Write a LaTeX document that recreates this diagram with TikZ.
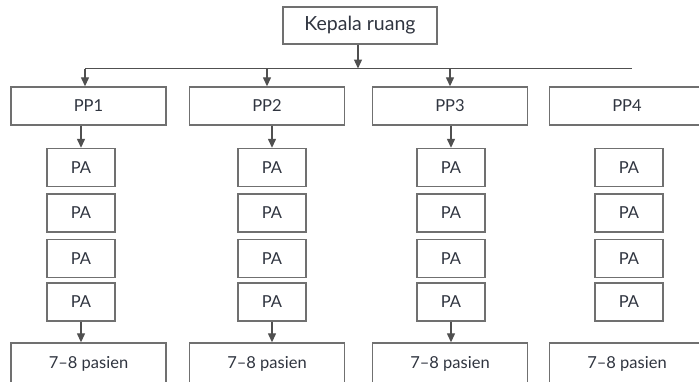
\documentclass[tikz,border=0pt]{standalone}
\usepackage{fontspec}
\setmainfont{Lato}
\usetikzlibrary{arrows.meta}
\definecolor{boxline}{HTML}{707070}
\definecolor{conn}{HTML}{505050}
\definecolor{txt}{HTML}{303540}
\begin{document}
\begin{tikzpicture}[x=1pt,y=1pt,
  box/.style={draw=boxline,line width=1.4pt,fill=white,inner sep=0pt,text=txt,font=\fontsize{16.5}{18}\selectfont},
  ppbox/.style={box,minimum width=155pt,minimum height=38pt},
  pabox/.style={box,minimum width=68pt,minimum height=38pt},
  arr/.style={draw=conn,line width=1.3pt,-{Triangle[length=9pt,width=8pt]}},
  ln/.style={draw=conn,line width=1.3pt}]
\useasboundingbox (0,0) rectangle (699,-381);
\fill[white] (0,0) rectangle (699,-381);
\node[box,minimum width=154pt,minimum height=37pt,font=\fontsize{19.5}{22}\selectfont] (kep) at (360,-25.5) {Kepala ruang};
% PP row
\node[ppbox] (pp1) at (88.5,-106) {PP1};
\node[ppbox] (pp2) at (267,-106) {PP2};
\node[ppbox] (pp3) at (450,-106) {PP3};
\node[ppbox] (pp4) at (627,-106) {PP4};
% PA columns
\foreach \c/\x in {1/81,2/272,3/451,4/629}{
  \node[pabox] (pa\c a) at (\x,-167.5) {PA};
  \node[pabox] (pa\c b) at (\x,-213) {PA};
  \node[pabox] (pa\c c) at (\x,-258.5) {PA};
  \node[pabox] (pa\c d) at (\x,-302) {PA};
}
% bottom row
\node[ppbox,minimum height=42pt] (bt1) at (88.5,-364) {7–8 pasien};
\node[ppbox,minimum height=42pt] (bt2) at (267,-364) {7–8 pasien};
\node[ppbox,minimum height=42pt] (bt3) at (450,-364) {7–8 pasien};
\node[ppbox,minimum height=42pt] (bt4) at (627,-364) {7–8 pasien};
% distribution line
\coordinate (jn) at (358,-68.5);
\coordinate (lL) at (85,-68.5);
\coordinate (lR) at (632,-68.5);
\draw[ln] (lL) -- (lR);
\draw[arr] (kep.south -| jn) -- (jn);
\draw[arr] (lL) -- (lL |- pp1.north);
\draw[arr] (pp2.north |- jn) -- (pp2.north);
\draw[arr] (pp3.north |- jn) -- (pp3.north);
% PP to PA
\foreach \c in {1,2,3}{
  \draw[arr] (pa\c a.north |- pp\c.south) -- (pa\c a.north);
  \draw[arr] (pa\c d.south) -- (pa\c d.south |- bt\c.north);
}
\end{tikzpicture}
\end{document}
